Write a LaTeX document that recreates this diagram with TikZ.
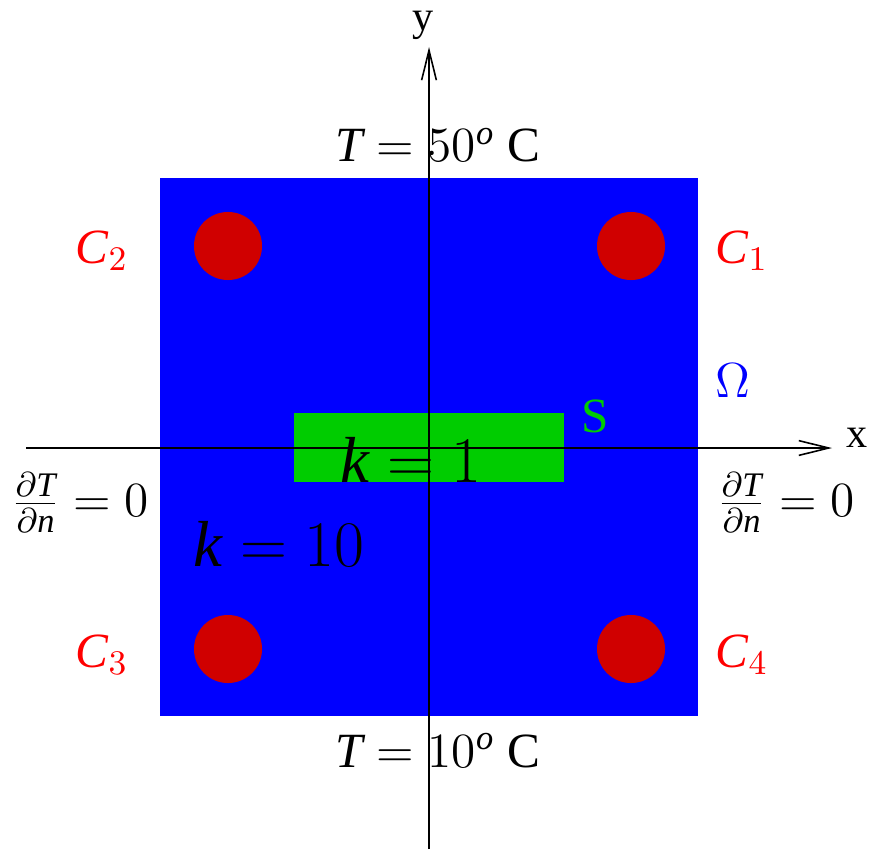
\RequirePackage{fix-cm}
\documentclass[tikz,border=0pt]{standalone}
\usepackage{fontspec}
\setmainfont{Liberation Serif}
\usetikzlibrary{arrows.meta}
\definecolor{sqblue}{RGB}{0,0,255}
\definecolor{sqgreen}{RGB}{0,204,0}
\definecolor{dotred}{RGB}{208,0,0}
\definecolor{lblred}{RGB}{255,0,0}
\tikzset{
  axis/.style={line width=0.45pt,-{Straight Barb[length=8.5pt,width=4.2pt]}},
  dot/.style={circle,fill=dotred,minimum size=68*0.2845pt,inner sep=0pt},
  lbl/.style={inner sep=0pt,font=\fontsize{14}{17}\selectfont},
  axl/.style={inner sep=0pt,font=\fontsize{12}{14}\selectfont},
  big/.style={inner sep=0pt,font=\fontsize{18.5}{22}\selectfont},
  mid/.style={inner sep=0pt,font=\fontsize{14}{17}\selectfont},
}
\newcommand{\dTdn}{$\frac{\partial \mathit{T}}{\partial \mathit{n}}=0$}
\begin{document}
\begin{tikzpicture}[x=0.01cm,y=-0.01cm]
\useasboundingbox (0,0) rectangle (871,849);
% domain
\fill[sqblue] (160,178) rectangle (698,716);
\fill[sqgreen] (294,413) rectangle (564,482);
\node[dot] (c1) at (631,246) {};
\node[dot] (c2) at (228,246) {};
\node[dot] (c3) at (228,649) {};
\node[dot] (c4) at (631,649) {};
% axes
\coordinate (yb) at (429,849);
\coordinate (yt) at (429,47);
\coordinate (xl) at (26,448);
\coordinate (xr) at (832,448);
\draw[axis] (yb) -- (yt);
\draw[axis] (xl) -- (xr);
\node[axl] (ylab) at (423,25) {y};
\node[axl] (xlab) at (857,438) {x};
% labels
\node[lbl,anchor=base] (top) at (438,162) {$\mathit{T}=50^{\mathit{o}}$ C};
\node[lbl,anchor=base] (bot) at (438,767) {$\mathit{T}=10^{\mathit{o}}$ C};
\node[lbl,anchor=base west,text=lblred] (l1) at (715,263) {$\mathit{C}_1$};
\node[lbl,anchor=base west,text=lblred] (l2) at (75,263) {$\mathit{C}_2$};
\node[lbl,anchor=base west,text=lblred] (l3) at (75,667) {$\mathit{C}_3$};
\node[lbl,anchor=base west,text=lblred] (l4) at (715,667) {$\mathit{C}_4$};
\node[lbl,anchor=base west,text=sqblue] (om) at (715,397) {$\Omega$};
\node[lbl,anchor=base west,text=sqgreen] (s) at (581,432) {S};
\node[big,anchor=base] (k1) at (411,482) {$\mathit{k}=1$};
\node[big,anchor=base] (k10) at (279,566) {$\mathit{k}=10$};
\node[mid,anchor=base] (nl) at (80,516) {\dTdn};
\node[mid,anchor=base] (nr) at (786,516) {\dTdn};
\end{tikzpicture}
\end{document}
